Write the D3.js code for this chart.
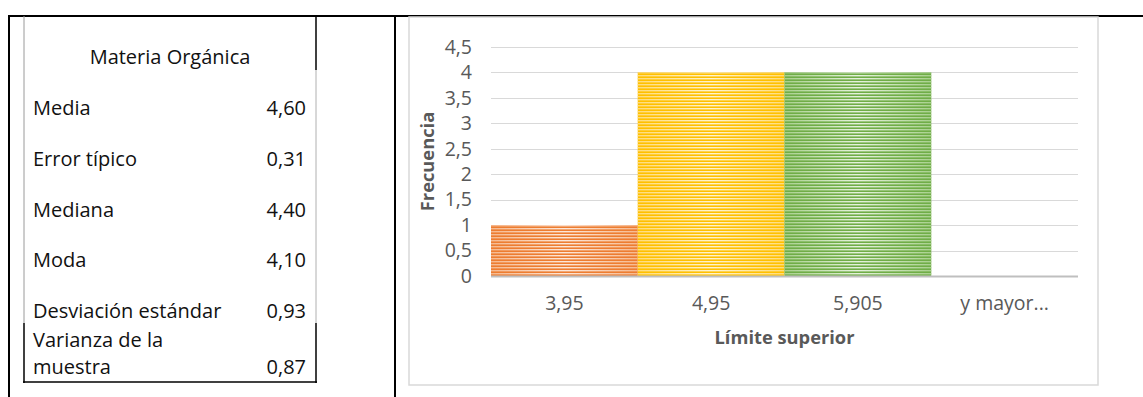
<!DOCTYPE html>
<html>
<head>
<meta charset="utf-8">
<script src="https://cdn.jsdelivr.net/npm/d3@7/dist/d3.min.js"></script>
<style>
  html, body { margin: 0; padding: 0; background: #fff; }
  svg { display: block; }
</style>
</head>
<body>
<svg id="root" width="1143" height="397"></svg>
<script>
// Summary statistics for the "Materia Orgánica" table
const statsTitle = "Materia Orgánica";
const statLabels = ["Media", "Error típico", "Mediana", "Moda", "Desviación estándar", ["Varianza de la", "muestra"]];
const statValues = ["4,60", "0,31", "4,40", "4,10", "0,93", "0,87"];

// Histogram: bins (upper limit) and frequencies
const categories = ["3,95", "4,95", "5,905", "y mayor..."];
const frequencies = [1, 4, 4, 0];
const barColors = ["#ED7D31", "#FFC000", "#70AD47", "#A5A5A5"];
const stripeLight = [["#f6b98f", "#fde8da"], ["#ffdc7a", "#fff4cf"], ["#a9d08e", "#e6f2de"], ["#d0d0d0", "#f0f0f0"]];
const yTicks = [0, 0.5, 1, 1.5, 2, 2.5, 3, 3.5, 4, 4.5];
const xTitle = "Límite superior";
const yTitle = "Frecuencia";

const svg = d3.select("#root");
const font = "'Open Sans', 'Noto Sans', sans-serif";

// ---------- page table frame ----------
const frame = svg.append("g").attr("stroke", "#000").attr("fill", "none");
frame.append("line").attr("x1", 8).attr("x2", 1143).attr("y1", 16).attr("y2", 16).attr("stroke-width", 2);
frame.append("line").attr("x1", 9).attr("x2", 9).attr("y1", 15).attr("y2", 397).attr("stroke-width", 2);
frame.append("line").attr("x1", 395).attr("x2", 395).attr("y1", 15).attr("y2", 397).attr("stroke-width", 2);

// ---------- statistics table ----------
const tbl = svg.append("g");
tbl.append("line").attr("x1", 24).attr("x2", 24).attr("y1", 16).attr("y2", 323).attr("stroke", "#9a9a9a").attr("stroke-width", 1);
tbl.append("line").attr("x1", 24).attr("x2", 24).attr("y1", 323).attr("y2", 383).attr("stroke", "#000").attr("stroke-width", 1.5);
tbl.append("line").attr("x1", 316).attr("x2", 316).attr("y1", 16).attr("y2", 70).attr("stroke", "#000").attr("stroke-width", 1.5);
tbl.append("line").attr("x1", 316).attr("x2", 316).attr("y1", 70).attr("y2", 323).attr("stroke", "#b0b0b0").attr("stroke-width", 1);
tbl.append("line").attr("x1", 316).attr("x2", 316).attr("y1", 323).attr("y2", 383).attr("stroke", "#000").attr("stroke-width", 1.5);
tbl.append("line").attr("x1", 23).attr("x2", 317).attr("y1", 382).attr("y2", 382).attr("stroke", "#000").attr("stroke-width", 1.5);

const tFont = 20;
tbl.append("text").attr("x", 170).attr("y", 64).attr("text-anchor", "middle")
  .attr("font-family", font).attr("font-size", tFont).attr("fill", "#111").text(statsTitle);

const rowBaselines = [115, 166, 217, 267, 318, 374];
statLabels.forEach((lab, i) => {
  const lines = Array.isArray(lab) ? lab : [lab];
  lines.forEach((ln, j) => {
    tbl.append("text").attr("x", 33)
      .attr("y", rowBaselines[i] - (lines.length - 1 - j) * 27)
      .attr("font-family", font).attr("font-size", tFont).attr("fill", "#111").text(ln);
  });
  tbl.append("text").attr("x", 306).attr("y", rowBaselines[i]).attr("text-anchor", "end")
    .attr("font-family", font).attr("font-size", tFont).attr("fill", "#111").text(statValues[i]);
});

// ---------- histogram ----------
svg.append("rect").attr("x", 409).attr("y", 17).attr("width", 689).attr("height", 368)
  .attr("fill", "#fff").attr("stroke", "#d9d9d9").attr("stroke-width", 1.5);

const x = d3.scaleBand().domain(categories).range([491, 1078]).padding(0);
const y = d3.scaleLinear().domain([0, 4.5]).range([276, 47]);

const defs = svg.append("defs");
// horizontal stripe mask shared by all bars
const pat = defs.append("pattern").attr("id", "stripes").attr("patternUnits", "userSpaceOnUse")
  .attr("width", 8).attr("height", 3);
pat.append("rect").attr("x", 0).attr("y", 0).attr("width", 8).attr("height", 1.4).attr("fill", "#fff");
categories.forEach((c, i) => {
  const g = defs.append("linearGradient").attr("id", "light" + i).attr("x1", 0).attr("x2", 1).attr("y1", 0).attr("y2", 0);
  g.append("stop").attr("offset", "0%").attr("stop-color", stripeLight[i][0]);
  g.append("stop").attr("offset", "50%").attr("stop-color", stripeLight[i][1]);
  g.append("stop").attr("offset", "100%").attr("stop-color", stripeLight[i][0]);
  const m = defs.append("mask").attr("id", "mask" + i).attr("maskUnits", "userSpaceOnUse")
    .attr("x", 0).attr("y", 0).attr("width", 1143).attr("height", 397);
  m.append("rect").attr("x", 0).attr("y", 0).attr("width", 1143).attr("height", 397).attr("fill", "url(#stripes)");
});

// gridlines
svg.append("g").selectAll("line").data(yTicks.filter(d => d > 0)).join("line")
  .attr("x1", 491).attr("x2", 1078)
  .attr("y1", d => Math.round(y(d)) + 0.5).attr("y2", d => Math.round(y(d)) + 0.5)
  .attr("stroke", "#d9d9d9").attr("stroke-width", 1);

// bars
const bars = svg.append("g");
categories.forEach((c, i) => {
  if (frequencies[i] <= 0) return;
  const bx = x(c), bw = x.bandwidth(), by = y(frequencies[i]), bh = y(0) - y(frequencies[i]);
  bars.append("rect").attr("x", bx).attr("y", by).attr("width", bw).attr("height", bh).attr("fill", barColors[i]);
  bars.append("rect").attr("x", bx).attr("y", by).attr("width", bw).attr("height", bh)
    .attr("fill", `url(#light${i})`).attr("mask", `url(#mask${i})`);
});

// x axis line
svg.append("line").attr("x1", 491).attr("x2", 1078).attr("y1", y(0) + 0.5).attr("y2", y(0) + 0.5)
  .attr("stroke", "#bfbfbf").attr("stroke-width", 2);

// y axis labels
const axFont = 19.5;
const fmt = d => String(d).replace(".", ",");
svg.append("g").attr("transform", "translate(472,0)")
  .call(d3.axisLeft(y).tickValues(yTicks).tickFormat(fmt).tickSize(0).tickPadding(0))
  .call(g => g.select(".domain").remove())
  .selectAll("text").attr("font-family", font).attr("font-size", axFont).attr("fill", "#595959");

// x axis labels
svg.append("g").attr("transform", "translate(0,310)")
  .call(d3.axisBottom(x).tickSize(0).tickPadding(0))
  .call(g => g.select(".domain").remove())
  .selectAll("text").attr("dy", 0).attr("font-family", font).attr("font-size", axFont).attr("fill", "#595959");

// axis titles
svg.append("text").attr("x", 784.5).attr("y", 344).attr("text-anchor", "middle")
  .attr("font-family", font).attr("font-size", 18.3).attr("font-weight", "bold").attr("fill", "#595959").text(xTitle);
svg.append("text").attr("transform", `translate(434,${(y(0) + y(4.5)) / 2}) rotate(-90)`).attr("text-anchor", "middle")
  .attr("font-family", font).attr("font-size", 18.3).attr("font-weight", "bold").attr("fill", "#595959").text(yTitle);
</script>
</body>
</html>
